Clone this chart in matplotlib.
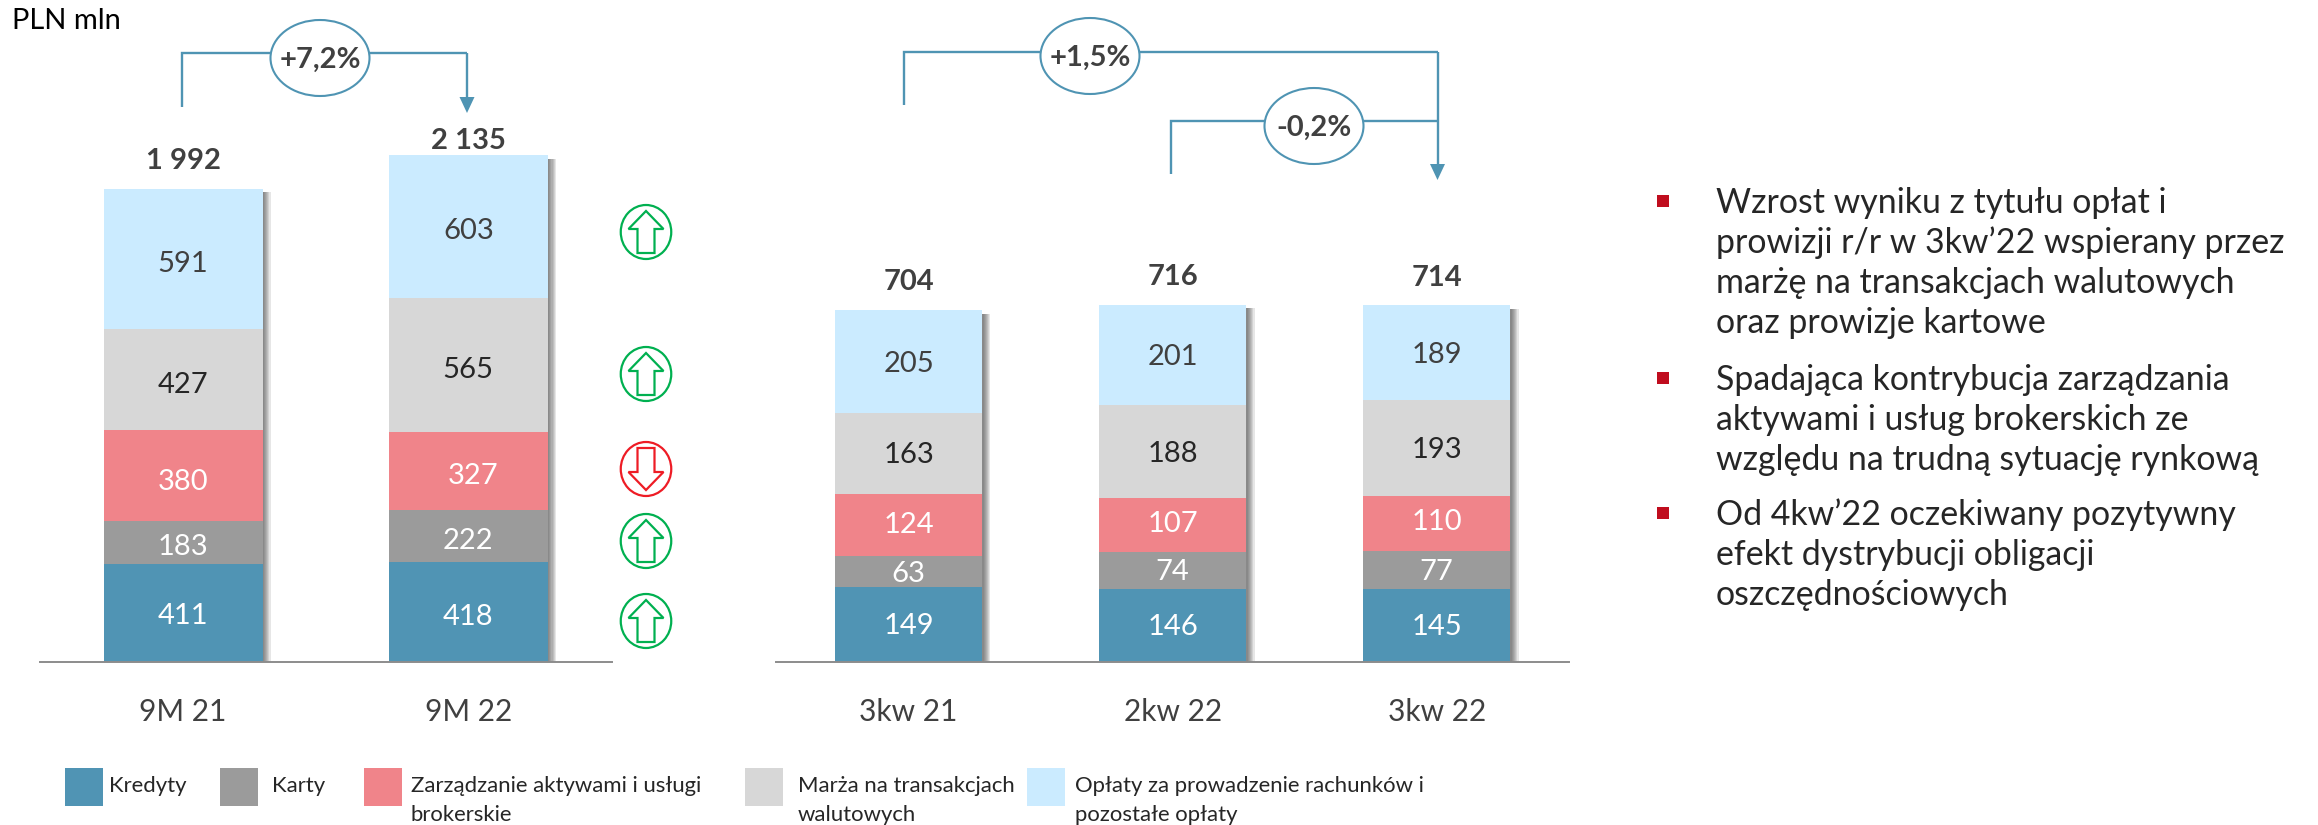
import matplotlib
matplotlib.use("Agg")
import matplotlib.pyplot as plt
from matplotlib.patches import Ellipse, Polygon, Rectangle
import matplotlib.patheffects as pe

plt.rcParams['font.family'] = ['Lato', 'DejaVu Sans']

# ---------- data ----------
series_names = ['Kredyty', 'Karty', 'Zarządzanie aktywami i usługi\nbrokerskie',
                'Marża na transakcjach\nwalutowych', 'Opłaty za prowadzenie rachunków i\npozostałe opłaty']
series_colors = ['#5094B4', '#9B9B9B', '#F0848A', '#D7D7D7', '#CBEBFF']
label_colors = ['white', 'white', 'white', '#262626', '#404040']

cats_left = ['9M 21', '9M 22']
kredyty_left = [411, 418]
karty_left = [183, 222]
zarzadzanie_left = [380, 327]
marza_left = [427, 565]
oplaty_left = [591, 603]
totals_left = ['1 992', '2 135']

cats_right = ['3kw 21', '2kw 22', '3kw 22']
kredyty_right = [149, 146, 145]
karty_right = [63, 74, 77]
zarzadzanie_right = [124, 107, 110]
marza_right = [163, 188, 193]
oplaty_right = [205, 201, 189]
totals_right = ['704', '716', '714']

changes = ['+7,2%', '+1,5%', '-0,2%']
bullets = [
    ['Wzrost wyniku z tytułu opłat i', 'prowizji r/r w 3kw’22 wspierany przez',
     'marżę na transakcjach walutowych', 'oraz prowizje kartowe'],
    ['Spadająca kontrybucja zarządzania', 'aktywami i usług brokerskich ze',
     'względu na trudną sytuację rynkową'],
    ['Od 4kw’22 oczekiwany pozytywny', 'efekt dystrybucji obligacji', 'oszczędnościowych'],
]

W, H = 2318, 825
fig = plt.figure(figsize=(W / 100, H / 100), dpi=100, facecolor='white')

BASE = 661.5
PX = 72 / 100  # points per pixel

def make_axes(x0, x1, xlim, scale):
    ax = fig.add_axes([x0 / W, (H - BASE) / H, (x1 - x0) / W, BASE / H])
    ax.set_xlim(*xlim)
    ax.set_ylim(0, BASE / scale)
    for s in ('top', 'left', 'right'):
        ax.spines[s].set_visible(False)
    ax.spines['bottom'].set_color('#8C8C8C')
    ax.spines['bottom'].set_linewidth(1.4)
    ax.set_yticks([])
    ax.tick_params(axis='x', length=0, pad=26.5, labelsize=21.5, labelcolor='#404040')
    ax.patch.set_alpha(0)
    return ax

def stacked(ax, cats, stacks, totals, width, total_gaps, label_dy, nudges):
    xs = list(range(len(cats)))
    total_vals = [sum(s[i] for s in stacks) for i in xs]
    shadow = ax.bar(xs, total_vals, width=width, color='white', zorder=1)
    effects = [pe.SimplePatchShadow(offset=(o, -2.5), shadow_rgbFace='#444444', alpha=0.13)
               for o in (6.0, 5.0, 4.2, 3.4, 2.6, 1.8, 1.0)]
    for p in shadow:
        p.set_path_effects(effects + [pe.Normal()])
    bottom = [0] * len(xs)
    for si, (s, col, lc) in enumerate(zip(stacks, series_colors, label_colors)):
        ax.bar(xs, s, bottom=bottom, width=width, color=col, zorder=2, linewidth=0)
        for x, v, b in zip(xs, s, bottom):
            dx, dy = nudges.get((si, x), (0, 0))
            ax.annotate(str(v), (x, b + v / 2), xytext=(dx * PX, label_dy - dy * PX), textcoords='offset points',
                        ha='center', va='center', color=lc, fontsize=21, zorder=3)
        bottom = [b + v for b, v in zip(bottom, s)]
    for x, t, tv, gap in zip(xs, totals, total_vals, total_gaps):
        ax.annotate(t, (x, tv), xytext=(0, gap * PX), textcoords='offset points', ha='center', va='center',
                    fontsize=21, fontweight='bold', color='#404040', zorder=3)
    ax.set_xticks(xs)
    ax.set_xticklabels(cats)

unit_l = 468.3 - 183.0
ax1 = make_axes(40, 612, ((40 - 183) / unit_l, (612 - 183) / unit_l), 0.2372)
stacked(ax1, cats_left, [kredyty_left, karty_left, zarzadzanie_left, marza_left, oplaty_left],
        totals_left, 159 / unit_l, [28, 14], -3.5, {(0, 0): (0, -2), (2, 0): (0, 2), (2, 1): (5, 0)})

unit_r = 264.1
ax2 = make_axes(776, 1569, ((776 - 908.5) / unit_r, (1569 - 908.5) / unit_r), 0.4986)
stacked(ax2, cats_right, [kredyty_right, karty_right, zarzadzanie_right, marza_right, oplaty_right],
        totals_right, 147.3 / unit_r, [28, 28, 27], -1.5,
        {(2, 0): (0, -2), (2, 1): (0, -3), (2, 2): (0, -3)})

# ---------- pixel-space overlay for annotations ----------
ov = fig.add_axes([0, 0, 1, 1], zorder=5)
ov.set_xlim(0, W)
ov.set_ylim(H, 0)
ov.axis('off')

LINE = '#4F94B3'

def bracket(xa, ya, ytop, xb, ytip, head=True):
    ov.plot([xa, xa, xb], [ya, ytop, ytop], color=LINE, lw=1.7, solid_joinstyle='miter', solid_capstyle='butt')
    if head:
        ov.plot([xb, xb], [ytop, ytip - 16], color=LINE, lw=1.7, solid_capstyle='butt')
        ov.add_patch(Polygon([[xb - 7.5, ytip - 16], [xb + 7.5, ytip - 16], [xb, ytip]], closed=True,
                             facecolor=LINE, edgecolor='none'))

def bubble(cx, cy, text):
    ov.add_patch(Ellipse((cx, cy), 99, 76, facecolor='white', edgecolor=LINE, lw=1.5, zorder=4))
    ov.text(cx, cy + 2, text, ha='center', va='center', fontsize=21, fontweight='bold', color='#404040', zorder=5)

bracket(182.3, 107, 53, 467, 113)
bubble(320, 58, changes[0])
bracket(903.5, 105, 52, 1437.5, 180)
bubble(1090, 56, changes[1])
bracket(1170.8, 174, 121, 1437.5, 180, head=False)
bubble(1314, 126, changes[2])

def updown(cy, up=True):
    col = '#00B050' if up else '#EE1C25'
    cx = 646
    ov.add_patch(Ellipse((cx, cy), 50.5, 54, facecolor='none', edgecolor=col, lw=1.6))
    pts = [(-8.5, -21), (8.5, -21), (8.5, 3), (17.5, 3), (0, 21), (-17.5, 3), (-8.5, 3)]
    ov.add_patch(Polygon([(cx + x, cy - y if up else cy + y) for x, y in pts],
                         closed=True, facecolor='none', edgecolor=col, lw=1.6, joinstyle='miter'))

for cy, up in [(232, True), (374, True), (469, False), (541, True), (621, True)]:
    updown(cy, up)

ov.text(12, 21, 'PLN mln', fontsize=21, color='black', ha='left', va='center')

# legend
swatches = [65, 220, 364, 745, 1027]
textx = [109, 272, 411, 798, 1075]
for name, col, sx, tx in zip(series_names, series_colors, swatches, textx):
    ov.add_patch(Rectangle((sx, 768), 38, 38, facecolor=col, edgecolor='none'))
    for i, part in enumerate(name.split('\n')):
        ov.text(tx, 792 + i * 29, part, fontsize=15.9, color='#262626', ha='left', va='baseline')

# bullets
baselines = [[213, 253, 293, 333], [390, 430, 470], [525, 565, 605]]
for lines, ys in zip(bullets, baselines):
    ov.add_patch(Rectangle((1657, ys[0] - 18), 12, 12, facecolor='#C00D1E', edgecolor='none'))
    for ln, y in zip(lines, ys):
        ov.text(1716, y, ln, fontsize=24.4, color='#262626', ha='left', va='baseline')

fig.savefig('out.png', dpi=100)
